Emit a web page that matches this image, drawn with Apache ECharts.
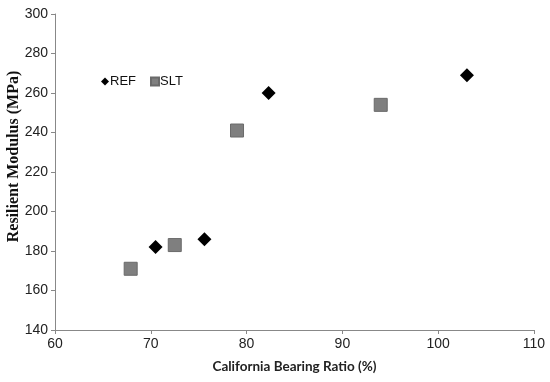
<!DOCTYPE html>
<html><head><meta charset="utf-8">
<script src="https://cdn.jsdelivr.net/npm/echarts@6/dist/echarts.min.js"></script>
<style>html,body{margin:0;padding:0;background:#fff}#c{width:550px;height:382px}</style>
</head><body><div id="c"></div>
<script>
var refData = [[70.5, 182], [75.6, 186], [82.3, 260], [103, 269]];
var sltData = [[67.9, 171], [72.5, 183], [79, 241], [94, 254]];
var xTitle = 'California Bearing Ratio (%)';
var yTitle = 'Resilient Modulus (MPa)';

var chart = echarts.init(document.getElementById('c'));
var axisLine = {lineStyle: {color: '#888', width: 1}};
var sans = 'Arial';
chart.setOption({
  animation: false,
  grid: {left: 55, right: 16, top: 14, bottom: 52, containLabel: false, outerBoundsMode: 'none'},
  legend: {
    left: 96, top: 70, itemGap: 14, itemWidth: 8, itemHeight: 8,
    textStyle: {fontFamily: sans, fontSize: 13, color: '#111', padding: [0,0,0,-4]},
    data: [{name: 'REF', icon: 'diamond'}, {name: 'SLT', icon: 'rect'}]
  },
  xAxis: {
    type: 'value', min: 60, max: 110, interval: 10,
    axisLine: axisLine, axisTick: {show: true, length: 4, lineStyle: {color: '#888'}},
    splitLine: {show: false},
    axisLabel: {fontFamily: sans, fontSize: 14, color: '#222', margin: 7},
    name: xTitle, nameLocation: 'middle', nameGap: 30, nameMoveOverlap: false,
    nameTextStyle: {fontFamily: 'Lato', fontWeight: 'bold', fontSize: 13.5, color: '#222'}
  },
  yAxis: {
    type: 'value', min: 140, max: 300, interval: 20,
    axisLine: axisLine, axisTick: {show: true, length: 4, lineStyle: {color: '#888'}},
    splitLine: {show: false},
    axisLabel: {fontFamily: sans, fontSize: 14, color: '#222', margin: 7},
    name: yTitle, nameLocation: 'middle', nameGap: 33, nameMoveOverlap: false,
    nameTextStyle: {fontFamily: 'Liberation Serif', fontWeight: 'bold', fontSize: 16, color: '#111', padding: [0,0,0,31]}
  },
  series: [
    {name: 'REF', type: 'scatter', data: refData, symbol: 'diamond', symbolSize: 14,
     itemStyle: {color: '#000', opacity: 1}},
    {name: 'SLT', type: 'scatter', data: sltData, symbol: 'rect', symbolSize: 13,
     itemStyle: {color: '#7f7f7f', borderColor: '#6a6a6a', borderWidth: 1, opacity: 1}}
  ]
});
</script></body></html>
